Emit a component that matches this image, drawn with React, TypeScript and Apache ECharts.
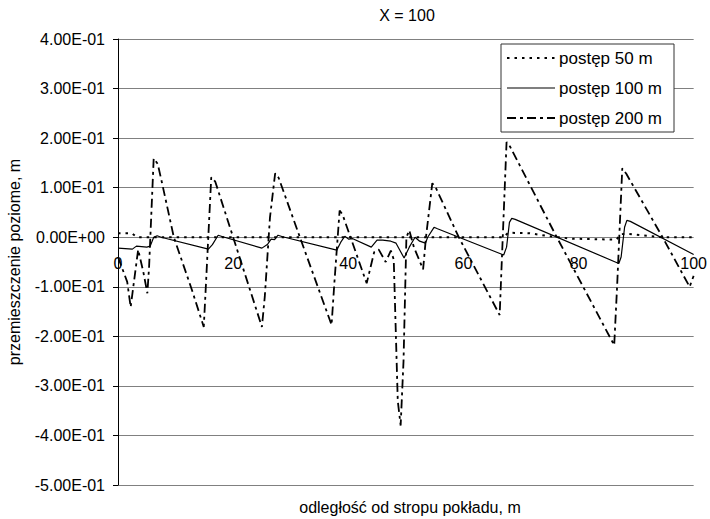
import { useEffect, useRef } from "react";
import * as echarts from "echarts";

// ---- data ----
const seriesNames = ["postęp 50 m", "postęp 100 m", "postęp 200 m"];

const advance50: [number, number][] = [
  [0, 0.008], [2.4, 0.008], [3.3, 0.0], [66.9, 0.0], [67.8, 0.009], [71.5, 0.008],
  [75.0, 0.002], [76.5, 0.0], [79.0, -0.003], [86.6, -0.005], [87.3, 0.006],
  [88.2, 0.007], [94.6, 0.0], [100, 0.0],
];

const advance100: [number, number][] = [
  [0, -0.022], [2.5, -0.024], [3.2, -0.018], [5.0, -0.02], [5.6, -0.018], [6.2, 0.0],
  [6.8, 0.003], [7.5, 0.0], [15.7, -0.024], [16.4, -0.015], [17.4, 0.004], [18.2, 0.001],
  [25.0, -0.022], [26.0, -0.014], [26.6, -0.004], [27.2, -0.005], [27.8, 0.004],
  [28.6, 0.001], [38.0, -0.026], [38.7, -0.01], [39.4, 0.002], [40.1, -0.004],
  [40.8, -0.003], [44.0, -0.02], [45.0, -0.006], [46.0, -0.006], [47.4, -0.008],
  [48.3, -0.012], [49.7, -0.042], [50.6, -0.02], [51.6, 0.0], [52.4, -0.008],
  [53.4, -0.012], [53.8, 0.0], [54.9, 0.02], [55.5, 0.017], [67.0, -0.036],
  [67.5, -0.02], [68.0, 0.03], [68.4, 0.038], [69.0, 0.036], [87.0, -0.053],
  [87.4, -0.04], [88.0, 0.02], [88.4, 0.034], [89.0, 0.032], [100, -0.035],
];

const advance200: [number, number][] = [
  [0, -0.04], [1.6, -0.09], [2.2, -0.141], [3.5, -0.025], [4.4, -0.07], [5.1, -0.113],
  [5.4, -0.06], [6.2, 0.159], [6.9, 0.148], [7.6, 0.112], [9.7, 0.0], [12.8, -0.105],
  [14.9, -0.181], [15.3, -0.09], [16.2, 0.121], [16.9, 0.112], [20.0, 0.0], [25.0, -0.181],
  [25.5, -0.12], [26.4, 0.04], [27.3, 0.129], [27.9, 0.12], [31.6, 0.0], [37.1, -0.177],
  [37.6, -0.09], [38.5, 0.054], [39.0, 0.046], [43.2, -0.093], [44.5, -0.03],
  [45.3, -0.025], [46.5, -0.05], [47.4, -0.027], [47.9, -0.045], [48.6, -0.33],
  [49.1, -0.38], [49.6, -0.25], [50.1, 0.0], [50.6, 0.014], [51.4, -0.02], [53.0, -0.065],
  [53.5, 0.0], [54.6, 0.109], [55.2, 0.1], [59.2, 0.0], [66.3, -0.157], [66.7, -0.04],
  [67.5, 0.192], [68.1, 0.183], [76.0, 0.005], [86.2, -0.218], [86.7, -0.1],
  [87.6, 0.139], [88.3, 0.128], [94.6, 0.0], [99.3, -0.1], [100, -0.078],
];

const yMin = -0.5;
const yMax = 0.4;
const yStep = 0.1;
const xMin = 0;
const xMax = 100;
const xStep = 20;

const titleText = "X = 100";
const xName = "odległość od stropu pokładu, m";
const yName = "przemieszczenie poziome, m";

const FONT = "'Liberation Sans', Arial, sans-serif";

const DASH50 = [2.5, 5];
const DASH200 = [9, 4, 3, 4];

function sci(v: number): string {
  const r = Math.round(v * 1000) / 1000;
  if (r === 0) return "0.00E+00";
  const e = Math.floor(Math.log10(Math.abs(r)) + 1e-9);
  const m = r / Math.pow(10, e);
  return m.toFixed(2) + "E" + (e < 0 ? "-" : "+") + String(Math.abs(e)).padStart(2, "0");
}

// grid geometry
const G_LEFT = 118;
const G_RIGHT = 14;
const G_TOP = 39;
const G_BOTTOM = 34;
const H = 519;
const plotH = H - G_TOP - G_BOTTOM;
const zeroY = G_TOP + (yMax / (yMax - yMin)) * plotH;

export default function App() {
  const ref = useRef<HTMLDivElement>(null);
  useEffect(() => {
    if (!ref.current) return;
    const chart = echarts.init(ref.current, null, { renderer: "svg" });

    const legendX = 501;
    const legendY = 44;
    const rowYs = [58, 88, 118];
    const legendStyles = [
      { width: 2, lineDash: DASH50 },
      { width: 1.2, lineDash: null },
      { width: 2, lineDash: DASH200 },
    ];
    const legendGraphics: any[] = [
      {
        type: "rect",
        shape: { x: legendX, y: legendY, width: 173, height: 88 },
        style: { fill: "#fff", stroke: "#333", lineWidth: 1 },
        z: 10,
      },
    ];
    seriesNames.forEach((name, i) => {
      legendGraphics.push({
        type: "line",
        shape: { x1: 507, y1: rowYs[i], x2: 555, y2: rowYs[i] },
        style: { stroke: "#000", lineWidth: legendStyles[i].width, lineDash: legendStyles[i].lineDash },
        z: 11,
      });
      legendGraphics.push({
        type: "text",
        x: 559,
        y: rowYs[i],
        style: { text: name, fontSize: 17, fontFamily: FONT, fill: "#000", textAlign: "left", textVerticalAlign: "middle" },
        z: 11,
      });
    });

    chart.setOption({
      animation: false,
      backgroundColor: "#fff",
      textStyle: { fontFamily: FONT },
      grid: { left: G_LEFT, right: G_RIGHT, top: G_TOP, bottom: G_BOTTOM, containLabel: false },
      graphic: [
        {
          type: "text", x: 407, y: 15,
          style: { text: titleText, fontSize: 16, fontFamily: FONT, fill: "#000", textAlign: "center", textVerticalAlign: "middle" },
        },
        {
          type: "text", x: 410, y: 507,
          style: { text: xName, fontSize: 16, fontFamily: FONT, fill: "#000", textAlign: "center", textVerticalAlign: "middle" },
        },
        {
          type: "text", x: 14, y: 262, rotation: Math.PI / 2,
          style: { text: yName, fontSize: 16, fontFamily: FONT, fill: "#000", textAlign: "center", textVerticalAlign: "middle" },
        },
        ...legendGraphics,
      ],
      xAxis: {
        type: "value",
        min: xMin,
        max: xMax,
        interval: xStep,
        axisLine: { show: false, onZero: false },
        axisTick: { show: false },
        axisLabel: {
          margin: Math.round(zeroY + 18 - (H - G_BOTTOM)),
          fontSize: 16,
          color: "#000",
          fontFamily: FONT,
        },
        splitLine: { show: false },
      },
      yAxis: {
        type: "value",
        min: yMin,
        max: yMax,
        interval: yStep,
        axisLine: { show: true, lineStyle: { color: "#000", width: 1 } },
        axisTick: { show: true, length: 5, lineStyle: { color: "#000" } },
        axisLabel: { margin: 13, fontSize: 16, color: "#000", fontFamily: FONT, formatter: sci },
        splitLine: { show: true, lineStyle: { color: "#808080", width: 1.2 } },
      },
      series: [
        {
          name: seriesNames[0], type: "line", symbol: "none", data: advance50, z: 3,
          lineStyle: { color: "#000", width: 2, type: DASH50 },
        },
        {
          name: seriesNames[1], type: "line", symbol: "none", data: advance100, z: 4,
          lineStyle: { color: "#000", width: 1.2, type: "solid" },
        },
        {
          name: seriesNames[2], type: "line", symbol: "none", data: advance200, z: 5,
          lineStyle: { color: "#000", width: 1.8, type: DASH200 },
        },
      ],
    });
    return () => chart.dispose();
  }, []);
  return <div ref={ref} style={{ position: "absolute", left: 0, top: 0, width: 710, height: 519 }} />;
}
